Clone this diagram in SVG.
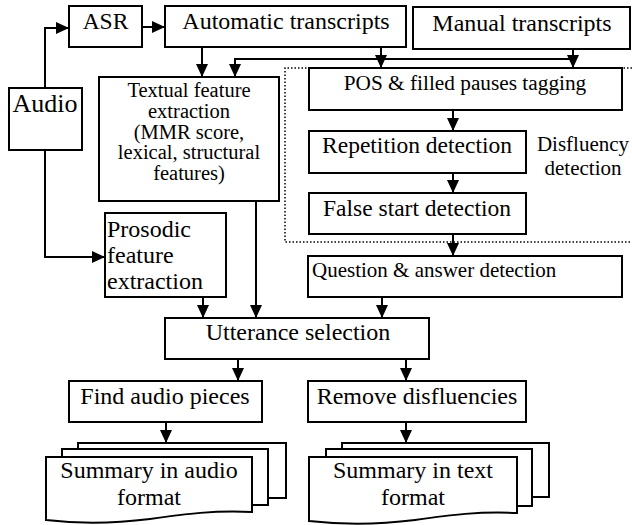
<svg xmlns="http://www.w3.org/2000/svg" width="632" height="525" viewBox="0 0 632 525" font-family="Liberation Serif, Times New Roman, serif">
<defs>
<marker id="ah" markerUnits="userSpaceOnUse" markerWidth="14" markerHeight="12" refX="13" refY="6" orient="auto">
<path d="M0,0 L13,6 L0,12 Z" fill="#000"/>
</marker>
<style>
rect,.doc{fill:#fff;stroke:#000;stroke-width:2}
text{fill:#000}
.c{text-anchor:middle}
.con path{fill:none;stroke:#000;stroke-width:2}
.arr{marker-end:url(#ah)}
.dot{fill:none;stroke:#000;stroke-width:1.5;stroke-dasharray:1.5 2}
</style>
</defs>
<rect width="632" height="525" fill="#fff" style="stroke:none"/>
<g id="disfluency-region">
<path class="dot" d="M632,68 H285 V242 H632"/>
<text class="c" x="583" y="151" font-size="21" font-family="Liberation Serif">Disfluency</text>
<text class="c" x="583" y="175" font-size="21" font-family="Liberation Serif">detection</text>
</g>
<g id="audio"><rect x="9" y="88" width="73" height="62"/><text class="c" x="45" y="112" font-size="26" font-family="Liberation Serif">Audio</text></g>
<g id="asr"><rect x="69" y="6" width="73" height="41"/><text class="c" x="105.5" y="29" font-size="23.5" font-family="Liberation Serif">ASR</text></g>
<g id="auto"><rect x="165" y="6" width="241" height="41"/><text class="c" x="286" y="29" font-size="24" font-family="Liberation Serif">Automatic transcripts</text></g>
<g id="manual"><rect x="413" y="7" width="217" height="42"/><text class="c" x="522" y="31" font-size="24" font-family="Liberation Serif">Manual transcripts</text></g>
<g id="textual"><rect x="99" y="77" width="180" height="124"/>
<text class="c" font-size="20.5" font-family="Liberation Serif"><tspan x="189" y="97">Textual feature</tspan><tspan x="189" y="118">extraction</tspan><tspan x="189" y="139">(MMR score,</tspan><tspan x="189" y="159">lexical, structural</tspan><tspan x="189" y="180">features)</tspan></text></g>
<g id="pos"><rect x="309" y="68" width="313" height="42"/><text class="c" x="465" y="90" font-size="21.3" font-family="Liberation Serif">POS &amp; filled pauses tagging</text></g>
<g id="repetition"><rect x="309" y="131" width="217" height="42"/><text class="c" x="417" y="153" font-size="23.5" font-family="Liberation Serif">Repetition detection</text></g>
<g id="falsestart"><rect x="309" y="193" width="217" height="41"/><text class="c" x="417" y="216" font-size="23.5" font-family="Liberation Serif">False start detection</text></g>
<g id="question"><rect x="308" y="256" width="314" height="41"/><text x="312" y="277" font-size="21" font-family="Liberation Serif">Question &amp; answer detection</text></g>
<g id="prosodic"><rect x="105" y="213" width="121" height="84"/>
<text font-size="24" font-family="Liberation Serif"><tspan x="107" y="237">Prosodic</tspan><tspan x="107" y="263">feature</tspan><tspan x="107" y="289">extraction</tspan></text></g>
<g id="utterance"><rect x="165" y="318" width="264" height="41"/><text class="c" x="298" y="340" font-size="24" font-family="Liberation Serif">Utterance selection</text></g>
<g id="findaudio"><rect x="69" y="381" width="193" height="41"/><text class="c" x="165" y="404" font-size="24" font-family="Liberation Serif">Find audio pieces</text></g>
<g id="remove"><rect x="308" y="381" width="218" height="41"/><text class="c" x="417" y="404" font-size="24" font-family="Liberation Serif">Remove disfluencies</text></g>
<g id="sum-audio">
<path class="doc" d="M78,449 V443 H286 V498 H268"/>
<path class="doc" d="M62,457 V449 H268 V505 H252"/>
<path class="doc" d="M46,457 H252 V512 C215,510 185,514 150,519 C110,524 80,524 46,520 Z"/>
<text class="c" font-size="24" font-family="Liberation Serif"><tspan x="149" y="478">Summary in audio</tspan><tspan x="149" y="505">format</tspan></text>
</g>
<g id="sum-text">
<path class="doc" d="M342,449 V443 H549 V497 H532"/>
<path class="doc" d="M326,457 V449 H532 V506 H517"/>
<path class="doc" d="M309,457 H517 V513 C480,511 450,515 415,520 C375,525 345,525 309,521 Z"/>
<text class="c" font-size="24" font-family="Liberation Serif"><tspan x="413" y="478">Summary in text</tspan><tspan x="413" y="505">format</tspan></text>
</g>
<g id="connectors" class="con">
<path class="arr" d="M45,88 V28 H69"/>
<path class="arr" d="M142,27 H165"/>
<path class="arr" d="M202,47 V77"/>
<path class="arr" d="M381,47 V68"/>
<path class="arr" d="M573,49 V68"/>
<path class="arr" d="M573,59 H235 V77"/>
<path class="arr" d="M453,110 V131"/>
<path class="arr" d="M453,173 V193"/>
<path class="arr" d="M453,234 V256"/>
<path class="arr" d="M382,297 V318"/>
<path class="arr" d="M45,150 V257 H105"/>
<path class="arr" d="M203,297 V318"/>
<path class="arr" d="M256,201 V318"/>
<path class="arr" d="M238,359 V381"/>
<path class="arr" d="M406,359 V381"/>
<path class="arr" d="M166,422 V443"/>
<path class="arr" d="M406,422 V443"/>
</g>
</svg>
